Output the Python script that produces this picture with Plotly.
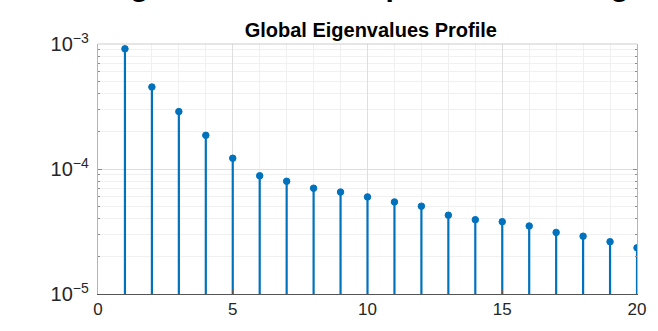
import plotly.graph_objects as go

# Eigenvalue index and magnitude
index = list(range(1, 21))
eigenvalues = [9.15e-4, 4.53e-4, 2.88e-4, 1.86e-4, 1.22e-4,
               8.83e-5, 7.98e-5, 7.02e-5, 6.54e-5, 5.98e-5,
               5.45e-5, 5.04e-5, 4.27e-5, 3.93e-5, 3.79e-5,
               3.50e-5, 3.11e-5, 2.90e-5, 2.62e-5, 2.34e-5]
stem_base = 1e-5
x_ticks = [0, 5, 10, 15, 20]

BLUE = "#0072BD"
FONT = "Liberation Sans, Arial, sans-serif"

# build stem segments (base -> value) separated by gaps
stem_x, stem_y = [], []
for i, v in zip(index, eigenvalues):
    stem_x += [i, i, None]
    stem_y += [stem_base, v, None]

fig = go.Figure()
fig.add_trace(go.Scatter(x=stem_x, y=stem_y, mode="lines",
                         line=dict(color=BLUE, width=2.2),
                         hoverinfo="skip", showlegend=False))
fig.add_trace(go.Scatter(x=index, y=eigenvalues, mode="markers",
                         marker=dict(color=BLUE, size=6.5,
                                     line=dict(color=BLUE, width=1)),
                         showlegend=False))

fig.update_layout(
    width=658, height=331,
    margin=dict(l=98, r=14, t=44, b=27),
    paper_bgcolor="white", plot_bgcolor="white",
    font=dict(family=FONT, color="#262626", size=17),
    title=dict(text="<b>Global Eigenvalues Profile</b>",
               x=0.5635, xanchor="center", y=0.889, yanchor="bottom",
               font=dict(size=20, color="#000000", family=FONT)),
    showlegend=False,
)

fig.update_xaxes(
    range=[0, 20], tickvals=x_ticks, ticktext=[str(t) for t in x_ticks],
    showline=True, linecolor="#555555", linewidth=1,
    ticks="inside", ticklen=4, tickcolor="#555555",
    showgrid=True, gridcolor="#dedede", gridwidth=1,
    minor=dict(dtick=1, showgrid=True, gridcolor="#f0f0f0", ticks=""),
    zeroline=False, tickfont=dict(size=17, color="#262626"),
)
fig.update_yaxes(
    type="log", range=[-5, -3], dtick=1, exponentformat="power",
    showline=True, linecolor="#b5b5b5", linewidth=1, mirror="ticks",
    ticks="inside", ticklen=4, tickcolor="#8c8c8c",
    showgrid=True, gridcolor="#dedede", gridwidth=1,
    minor=dict(dtick="D1", showgrid=True, gridcolor="#f0f0f0",
               ticks="inside", ticklen=2, tickcolor="#8c8c8c"),
    zeroline=False, tickfont=dict(size=16, color="#262626"),
    ticklabelstandoff=5,
)

# light top border of the axes box
fig.add_shape(type="line", xref="paper", yref="paper",
              x0=0, x1=1, y0=1, y1=1, line=dict(color="#cccccc", width=1))

# overall figure heading sitting above the visible area
fig.add_annotation(text="<b>Eigenvalues Decomposition Ranking</b>",
                   xref="paper", yref="paper", x=(100 - 98) / 546, xanchor="left",
                   y=1 + 44 / 260, yanchor="bottom", yshift=-2,
                   showarrow=False, font=dict(size=30, color="#000000", family=FONT))

fig.write_html("out.html")
